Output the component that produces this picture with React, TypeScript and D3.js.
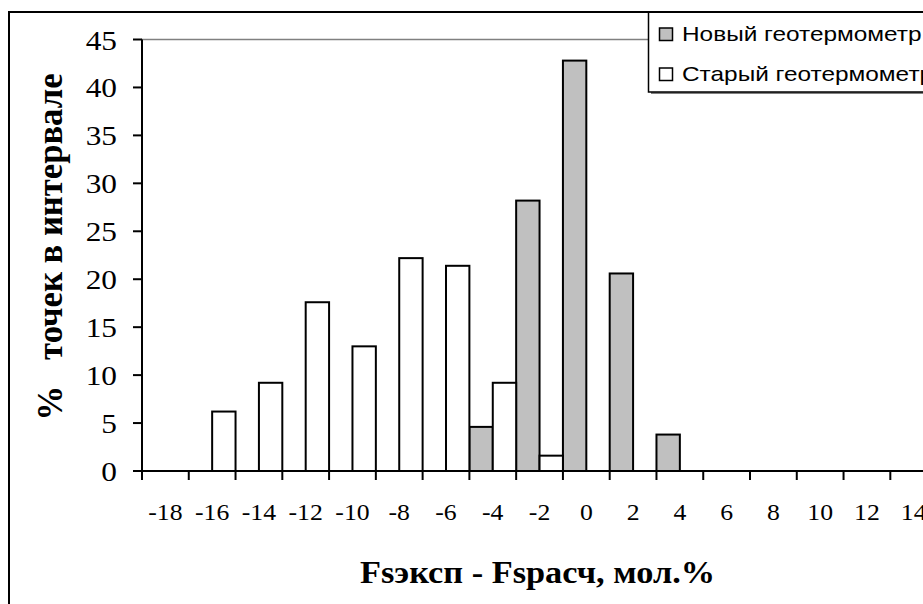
import React from 'react';
import * as d3 from 'd3';

// Interval labels (mol.%) for the histogram bins
const categories = ['-18', '-16', '-14', '-12', '-10', '-8', '-6', '-4', '-2', '0', '2', '4', '6', '8', '10', '12', '14'];
// Share of points in each interval, %
const newSeries = [0, 0, 0, 0, 0, 0, 0, 4.6, 28.2, 42.8, 20.6, 3.8, 0, 0, 0, 0, 0];
const oldSeries = [0, 6.2, 9.2, 17.6, 13.0, 22.2, 21.4, 9.2, 1.6, 0, 0, 0, 0, 0, 0, 0, 0];
const yTicks = [0, 5, 10, 15, 20, 25, 30, 35, 40, 45];
const seriesKeys = ['new', 'old'];
const seriesNames = ['Новый геотермометр', 'Старый геотермометр'];
const seriesFills = ['#C0C0C0', '#FFFFFF'];

const W = 923;
const H = 604;
const SX = 1.12; // horizontal text stretch
const LEGEND_SX = 1.22;
const SERIF = '"Liberation Serif", "Times New Roman", serif';
const SANS = '"Liberation Sans", Arial, sans-serif';

export default function App() {
  const plotLeft = 142;
  const plotRight = 142 + 17 * 46.77;
  const plotTop = 39.5;
  const plotBottom = 471;

  const x = d3.scaleBand<string>().domain(categories).range([plotLeft, plotRight]).padding(0);
  const sub = d3.scaleBand<string>().domain(seriesKeys).range([0, x.bandwidth()]).padding(0);
  const y = d3.scaleLinear().domain([0, 45]).range([plotBottom, plotTop]);

  const series = [newSeries, oldSeries];
  const boundaries = categories.map((c) => x(c) as number).concat([plotRight]);

  return (
    <svg
      width={W}
      height={H}
      style={{ position: 'fixed', left: 0, top: 0, background: '#fff' }}
    >
      <rect x={0} y={0} width={W} height={H} fill="#fff" />

      {/* plot area frame */}
      <rect
        x={plotLeft}
        y={plotTop}
        width={plotRight - plotLeft}
        height={plotBottom - plotTop}
        fill="none"
        stroke="#808080"
        strokeWidth={1.5}
      />

      {/* bars */}
      {series.map((vals, si) =>
        vals.map((v, i) =>
          v > 0 ? (
            <rect
              key={`${si}-${i}`}
              x={(x(categories[i]) as number) + (sub(seriesKeys[si]) as number)}
              y={y(v)}
              width={sub.bandwidth()}
              height={y(0) - y(v)}
              fill={seriesFills[si]}
              stroke="#000"
              strokeWidth={2}
            />
          ) : null
        )
      )}

      {/* y axis */}
      <line x1={plotLeft} x2={plotLeft} y1={plotTop} y2={plotBottom} stroke="#000" strokeWidth={2} />
      {yTicks.map((t) => (
        <g key={`yt${t}`}>
          <line x1={plotLeft - 9} x2={plotLeft} y1={y(t)} y2={y(t)} stroke="#000" strokeWidth={2} />
          <text
            transform={`translate(117,${y(t) + 10}) scale(${SX},1)`}
            textAnchor="end"
            fontFamily={SERIF}
            fontSize={28}
            fill="#000"
          >
            {t}
          </text>
        </g>
      ))}

      {/* x axis */}
      <line x1={plotLeft} x2={plotRight} y1={plotBottom} y2={plotBottom} stroke="#000" strokeWidth={2} />
      {boundaries.map((b, i) => (
        <line key={`xt${i}`} x1={b} x2={b} y1={plotBottom} y2={plotBottom + 9} stroke="#000" strokeWidth={2} />
      ))}
      {categories.map((c) => (
        <text
          key={`xl${c}`}
          transform={`translate(${(x(c) as number) + x.bandwidth() / 2},519.5) scale(${SX},1)`}
          textAnchor="middle"
          fontFamily={SERIF}
          fontSize={23}
          fill="#000"
        >
          {c}
        </text>
      ))}

      {/* axis titles */}
      <text
        x={(plotLeft + plotRight) / 2 - 2}
        y={583}
        textAnchor="middle"
        fontFamily={SERIF}
        fontWeight="bold"
        fontSize={32}
        textLength={355}
        lengthAdjust="spacingAndGlyphs"
        fill="#000"
      >
        Fsэксп - Fsрасч, мол.%
      </text>
      <text
        transform={`translate(62,247) rotate(-90)`}
        textAnchor="middle"
        fontFamily={SERIF}
        fontWeight="bold"
        fontSize={36}
        textLength={347}
        lengthAdjust="spacingAndGlyphs"
        fill="#000"
        style={{ whiteSpace: 'pre' }}
      >
        {'%   точек в интервале'}
      </text>

      {/* legend */}
      <rect x={651} y={14} width={300} height={80} fill="#808080" />
      <rect x={648.5} y={12} width={300} height={80} fill="#fff" stroke="#000" strokeWidth={1.5} />
      {seriesNames.map((name, i) => (
        <g key={name}>
          <rect
            x={659.5}
            y={28 + i * 40}
            width={13}
            height={12.5}
            fill={seriesFills[i]}
            stroke="#000"
            strokeWidth={1.5}
          />
          <text
            transform={`translate(682,${41 + i * 40}) scale(${LEGEND_SX},1)`}
            fontFamily={SANS}
            fontSize={20}
            fill="#000"
          >
            {name}
          </text>
        </g>
      ))}

      {/* chart frame */}
      <rect x={9} y={12} width={W + 20} height={H + 20} fill="none" stroke="#000" strokeWidth={2} />
    </svg>
  );
}
